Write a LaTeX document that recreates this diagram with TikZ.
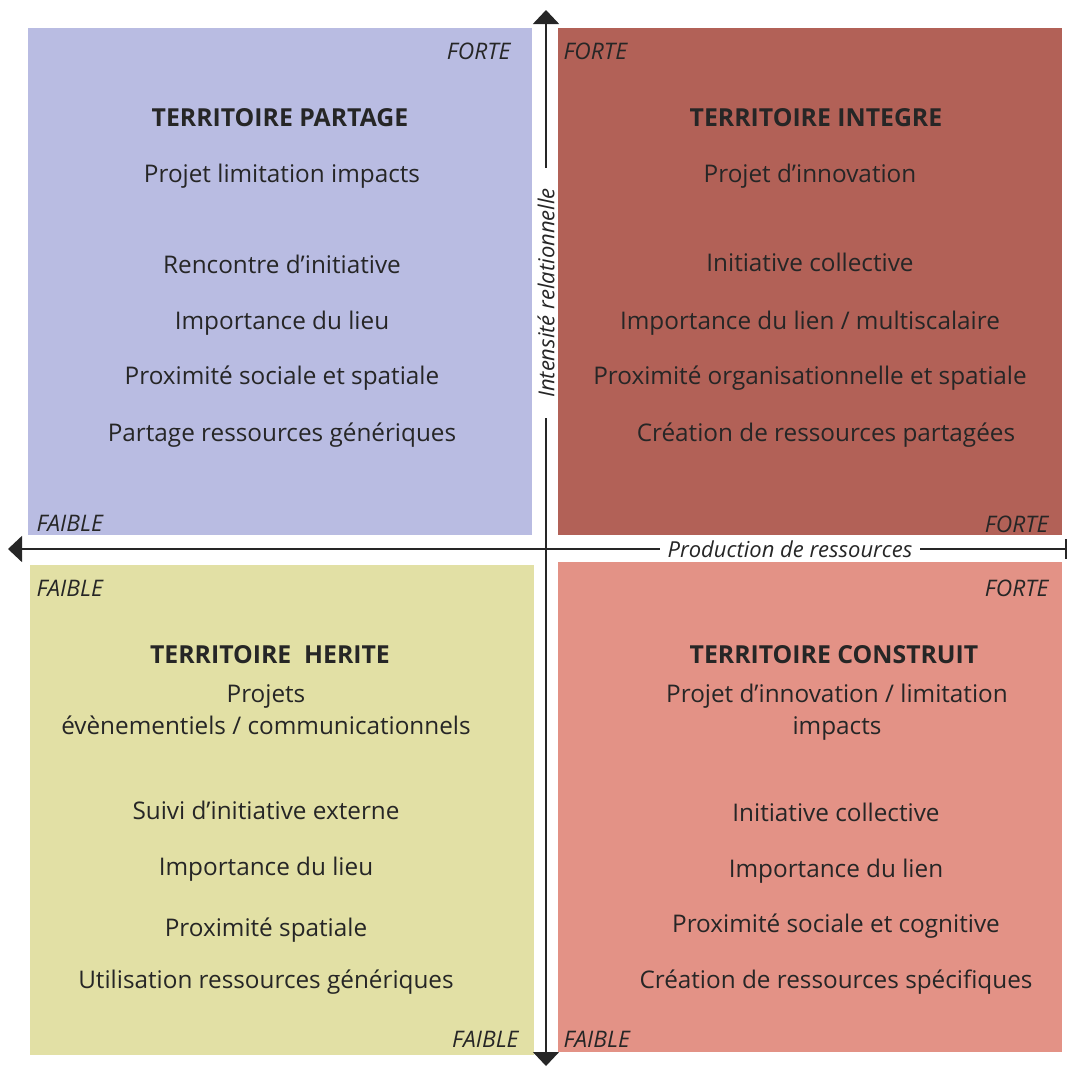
\documentclass[tikz,border=0pt]{standalone}
\usepackage{fontspec}
\setmainfont{Open Sans}
\usetikzlibrary{arrows.meta}

\definecolor{partage}{HTML}{B9BCE2}
\definecolor{integre}{HTML}{B26157}
\definecolor{herite}{HTML}{E2E0A5}
\definecolor{construit}{HTML}{E39286}

\begin{document}
\begin{tikzpicture}[x=1pt,y=-1pt,
  txt/.style={font=\fontsize{24.3}{32}\selectfont,align=center,text=black!85},
  ttl/.style={font=\fontsize{24.8}{30}\selectfont\bfseries,text=black!85},
  lvl/.style={font=\fontsize{22.8}{27}\selectfont\itshape,text=black!85},
  axis/.style={line width=1.6pt,black!85}]
\useasboundingbox (0,0) rectangle (1068,1066);

% quadrants
\fill[partage] (28,28) rectangle (532,535);
\fill[integre] (558,28) rectangle (1062,535);
\fill[herite] (30,565) rectangle (534,1055);
\fill[construit] (558,562) rectangle (1062,1052);

% axes
\coordinate (top) at (546,10);
\coordinate (bottom) at (546,1066);
\coordinate (left) at (8,549);
\coordinate (right) at (1067,549);
\draw[axis,{Triangle[width=26pt,length=14pt]}-{Triangle[width=26pt,length=14pt]}] (top) -- (bottom);
\draw[axis,{Triangle[width=26pt,length=14pt]}-{Bar[width=20pt]}] (left) -- (right);

\node[lvl,font=\fontsize{22}{26}\selectfont\itshape,fill=white,rotate=90,inner xsep=20pt,inner ysep=1pt] (intensite) at (546,293) {Intensité relationnelle};
\node[lvl,font=\fontsize{22}{26}\selectfont\itshape,fill=white,inner xsep=8pt,inner ysep=1pt] (production) at (790,549) {Production de ressources};

% territoire partage
\node[ttl] (partage) at (280,118) {TERRITOIRE PARTAGE};
\node[txt] (p1) at (282,176) {Projet limitation impacts};
\node[txt] (p2) at (282,264) {Rencontre d’initiative};
\node[txt] (p3) at (282,323) {Importance du lieu};
\node[txt] (p4) at (282,378) {Proximité sociale et spatiale};
\node[txt] (p5) at (282,435) {Partage ressources génériques};
\node[lvl,anchor=east] (pForte) at (514,51) {FORTE};
\node[lvl,anchor=west] (pFaible) at (33,523) {FAIBLE};

% territoire integre
\node[ttl] (integre) at (816,118) {TERRITOIRE INTEGRE};
\node[txt] (i1) at (810,176) {Projet d’innovation};
\node[txt] (i2) at (810,262) {Initiative collective};
\node[txt] (i3) at (810,323) {Importance du lien / multiscalaire};
\node[txt] (i4) at (810,378) {Proximité organisationnelle et spatiale};
\node[txt] (i5) at (826,435) {Création de ressources partagées};
\node[lvl,anchor=west] (iForteH) at (560,51) {FORTE};
\node[lvl,anchor=east] (iForteB) at (1052,524) {FORTE};

% territoire herite
\node[ttl] (herite) at (270,655) {TERRITOIRE\ \ HERITE};
\node[txt] (h1) at (266,710) {Projets\\évènementiels / communicationnels};
\node[txt] (h2) at (266,810) {Suivi d’initiative externe};
\node[txt] (h3) at (266,869) {Importance du lieu};
\node[txt] (h4) at (266,930) {Proximité spatiale};
\node[txt] (h5) at (266,982) {Utilisation ressources génériques};
\node[lvl,anchor=west] (hFaibleH) at (33,588) {FAIBLE};
\node[lvl,anchor=east] (hFaibleB) at (522,1039) {FAIBLE};

% territoire construit
\node[ttl] (construit) at (834,655) {TERRITOIRE CONSTRUIT};
\node[txt] (c1) at (837,712) {Projet d’innovation / limitation\\impacts};
\node[txt] (c2) at (836,812) {Initiative collective};
\node[txt] (c3) at (836,871) {Importance du lien};
\node[txt] (c4) at (836,926) {Proximité sociale et cognitive};
\node[txt] (c5) at (836,982) {Création de ressources spécifiques};
\node[lvl,anchor=east] (cForte) at (1052,588) {FORTE};
\node[lvl,anchor=west] (cFaible) at (560,1039) {FAIBLE};
\end{tikzpicture}
\end{document}
